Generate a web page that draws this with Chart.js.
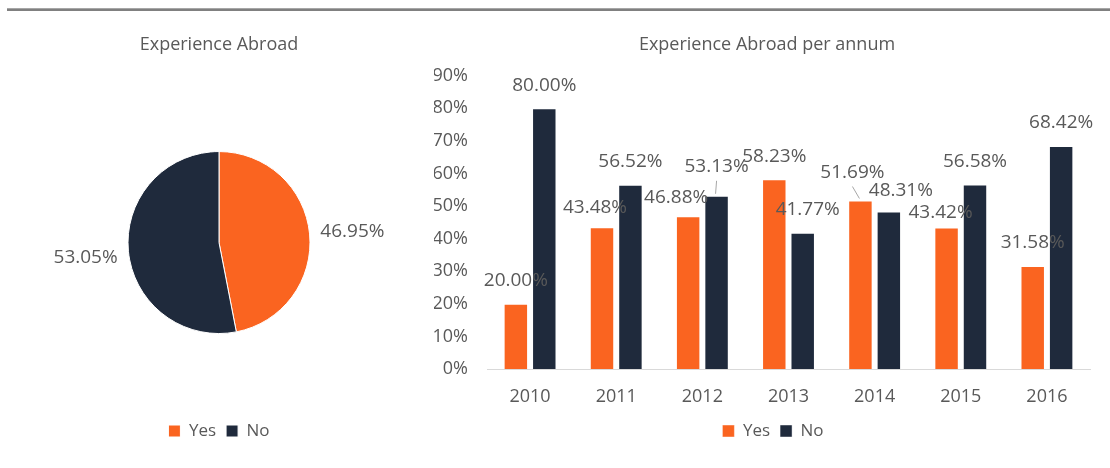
<!DOCTYPE html>
<html>
<head>
<meta charset="utf-8">
<title>Experience Abroad</title>
<script src="https://cdn.jsdelivr.net/npm/chart.js@4.4.1/dist/chart.umd.min.js"></script>
<style>
    html, body { margin: 0; padding: 0; background: #fff; }
    #page { position: relative; width: 1110px; height: 468px; overflow: hidden; }
    #rule { position: absolute; left: 7px; right: 0; top: 8px; height: 1px; background: #a6a6a6; border-bottom: 2px solid #808080; }
    #pieChart { position: absolute; left: 0; top: 0; }
    #barChart { position: absolute; left: 430px; top: 0; }
</style>
</head>
<body>
<div id="page">
    <div id="rule"></div>
    <canvas id="pieChart" width="438" height="468"></canvas>
    <canvas id="barChart" width="680" height="468"></canvas>
</div>
<script>
var answers = ["Yes", "No"];
var overallShare = [46.95, 53.05];

var years = ["2010", "2011", "2012", "2013", "2014", "2015", "2016"];
var yesShare = [20.00, 43.48, 46.88, 58.23, 51.69, 43.42, 31.58];
var noShare = [80.00, 56.52, 53.13, 41.77, 48.31, 56.58, 68.42];

var ORANGE = "#FA6420";
var NAVY = "#1F2A3C";
var TEXT = "#595959";
var FONT = "'Open Sans', sans-serif";

// labels were moved by hand in the original; [dx, dy] nudges in px
var yesNudge = [[0, 0], [-7, 3], [-12, 4], [0, 0], [-8, -5], [-6, 8], [0, 0]];
var noNudge = [[0, 0], [0, 0], [0, -6], [5, 0], [12, 2], [0, 0], [0, 0]];

Chart.defaults.font.family = FONT;
Chart.defaults.color = TEXT;
Chart.defaults.animation = false;

var pieLabels = {
    id: "pieLabels",
    afterDatasetsDraw: function (chart) {
        var ctx = chart.ctx;
        var meta = chart.getDatasetMeta(0);
        ctx.save();
        ctx.font = "19px " + FONT;
        ctx.fillStyle = TEXT;
        ctx.textAlign = "center";
        ctx.textBaseline = "middle";
        meta.data.forEach(function (arc, i) {
            var mid = (arc.startAngle + arc.endAngle) / 2;
            var r = arc.outerRadius + 43;
            ctx.fillText(overallShare[i].toFixed(2) + "%", arc.x + Math.cos(mid) * r, arc.y + Math.sin(mid) * r + 2);
        });
        ctx.restore();
    }
};

var barLabels = {
    id: "barLabels",
    afterDatasetsDraw: function (chart) {
        var ctx = chart.ctx;
        var nudges = [yesNudge, noNudge];
        ctx.save();
        ctx.font = "19px " + FONT;
        ctx.textAlign = "center";
        ctx.textBaseline = "middle";
        chart.data.datasets.forEach(function (ds, d) {
            chart.getDatasetMeta(d).data.forEach(function (bar, i) {
                var n = nudges[d][i];
                var x = bar.x + n[0];
                var y = bar.y - 23 + n[1];
                if (n[1] <= -5) {
                    ctx.strokeStyle = "#a6a6a6";
                    ctx.lineWidth = 1;
                    ctx.beginPath();
                    ctx.moveTo(bar.x - 1, bar.y - 2);
                    ctx.lineTo(x, y + 14);
                    ctx.stroke();
                }
                ctx.fillStyle = TEXT;
                ctx.fillText(ds.data[i].toFixed(2) + "%", x, y);
            });
        });
        ctx.restore();
    }
};

// title and legend sit a little right of the plot centre in the original
var shiftBoxes = {
    id: "shiftBoxes",
    afterLayout: function (chart) {
        chart.titleBlock.left += 5;
        chart.titleBlock.right += 5;
        chart.legend.left += 11;
        chart.legend.right += 11;
    }
};

var legendOpts = {
    position: "bottom",
    labels: { boxWidth: 12, boxHeight: 12, padding: 10, font: { size: 17 }, color: TEXT }
};

new Chart(document.getElementById("pieChart"), {
    type: "pie",
    data: {
        labels: answers,
        datasets: [{
            data: overallShare,
            backgroundColor: [ORANGE, NAVY],
            borderColor: "#ffffff",
            borderWidth: 1,
            radius: 91
        }]
    },
    options: {
        responsive: false,
        events: [],
        layout: { padding: { bottom: 18.5 } },
        plugins: {
            title: {
                display: true,
                text: "Experience Abroad",
                font: { size: 18, weight: "normal" },
                color: TEXT,
                padding: { top: 34, bottom: 17 }
            },
            legend: legendOpts,
            tooltip: { enabled: false }
        }
    },
    plugins: [pieLabels]
});

new Chart(document.getElementById("barChart"), {
    type: "bar",
    data: {
        labels: years,
        datasets: [
            {
                label: "Yes",
                data: yesShare,
                backgroundColor: ORANGE,
                borderColor: "rgba(255,255,255,0.45)",
                borderWidth: 1
            },
            {
                label: "No",
                data: noShare,
                backgroundColor: NAVY,
                borderColor: "rgba(255,255,255,0.45)",
                borderWidth: 1
            }
        ]
    },
    options: {
        responsive: false,
        events: [],
        categoryPercentage: 0.66,
        barPercentage: 0.86,
        layout: { padding: { left: 4, right: 20, bottom: 18.5 } },
        plugins: {
            title: {
                display: true,
                text: "Experience Abroad per annum",
                font: { size: 18, weight: "normal" },
                color: TEXT,
                padding: { top: 34, bottom: 20 }
            },
            legend: legendOpts,
            tooltip: { enabled: false }
        },
        scales: {
            x: {
                grid: { display: false, drawTicks: false },
                border: { display: true, color: "#d9d9d9", width: 1 },
                ticks: { padding: 10, font: { size: 18, lineHeight: 2 }, color: TEXT },
                afterFit: function (scale) { scale.height = 43.5; }
            },
            y: {
                min: 0,
                max: 90,
                grid: { display: false, drawTicks: false },
                border: { display: false },
                ticks: {
                    stepSize: 10,
                    padding: 19,
                    font: { size: 18 },
                    color: TEXT,
                    callback: function (v) { return v + "%"; }
                },
                afterFit: function (scale) { scale.width = 53; }
            }
        }
    },
    plugins: [barLabels, shiftBoxes]
});
</script>
</body>
</html>
